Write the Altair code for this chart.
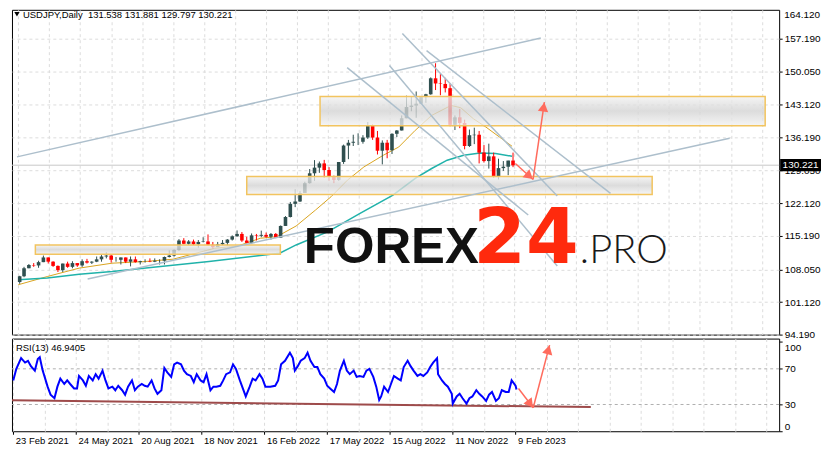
import altair as alt
import pandas as pd

# ---------------- axis / text content ----------------
price_ticks = [164.12, 157.19, 150.05, 143.12, 136.19, 129.05, 122.12, 115.19, 108.05, 101.12, 94.19]
rsi_ticks = [0, 30, 70, 100]
rsi_levels = [30, 70]
date_labels = ["23 Feb 2021", "24 May 2021", "20 Aug 2021", "18 Nov 2021", "16 Feb 2022",
               "17 May 2022", "15 Aug 2022", "11 Nov 2022", "9 Feb 2023"]
date_label_bars = [0, 64, 128, 192, 256, 320, 384, 448, 512]
grid_bars = [0, 32, 64, 96, 128, 160, 192, 224, 256, 288, 320, 352, 384, 416, 448, 480,
             512, 544, 576, 608, 640, 672, 704, 736, 768]
header_text = "USDJPY,Daily\u00a0\u00a0131.538 131.881 129.797 130.221"
rsi_title = "RSI(13) 46.9405"
bid_price = 130.221
bid_label = "130.221"

# ---------------- weekly candles (USDJPY, Feb 2021 - Feb 2023) ----------------
first_open = 105.4
week_close = [106.6, 108.3, 109.0, 108.9, 109.6, 110.6, 109.7, 108.8, 107.9, 109.3,
              108.6, 109.4, 108.9, 109.8, 109.5, 109.7, 110.2, 110.8, 111.0, 110.1,
              110.1, 110.6, 109.7, 110.2, 109.6, 109.8, 109.8, 109.7, 109.9, 109.9,
              110.7, 111.0, 112.2, 114.2, 113.5, 114.0, 113.4, 113.9, 114.0, 113.3,
              112.8, 113.4, 113.7, 114.4, 115.1, 115.6, 114.2, 113.7, 115.3, 115.2,
              115.4, 115.0, 115.6, 114.8, 117.3, 119.2, 122.0, 122.5, 124.3, 126.4,
              128.5, 129.7, 130.6, 129.2, 127.9, 127.1, 130.9, 134.4, 135.0, 135.2,
              135.2, 136.1, 138.6, 136.1, 133.3, 135.0, 133.4, 136.9, 137.6, 140.2,
              142.6, 142.9, 143.3, 144.7, 145.3, 148.7, 147.6, 147.5, 146.6, 138.8,
              140.4, 139.2, 134.3, 136.6, 136.7, 132.9, 131.1, 132.1, 127.9, 129.6,
              129.9, 131.2, 130.2]
week_high = [106.7, 108.6, 109.2, 109.4, 109.9, 111.0, 110.6, 109.8, 108.9, 109.3,
             109.7, 109.8, 109.4, 110.2, 110.3, 109.8, 110.8, 111.1, 111.7, 111.2,
             110.7, 110.6, 110.6, 110.8, 110.8, 109.9, 110.2, 110.4, 110.4, 110.2,
             110.8, 112.1, 112.3, 114.5, 114.7, 114.3, 114.4, 114.3, 114.9, 115.5,
             113.9, 113.9, 114.3, 114.5, 115.3, 116.35, 116.0, 115.0, 115.7, 115.6,
             116.3, 115.9, 115.8, 115.8, 117.4, 119.4, 122.4, 125.1, 124.7, 126.7,
             129.4, 131.3, 131.0, 131.35, 129.8, 128.0, 130.9, 134.6, 135.6, 136.7,
             137.0, 136.6, 139.4, 138.9, 137.5, 135.5, 135.6, 137.0, 137.7, 140.8,
             145.0, 144.9, 145.9, 144.9, 145.4, 148.9, 151.9, 149.7, 148.8, 147.6,
             140.8, 142.2, 139.9, 137.8, 138.2, 137.5, 134.5, 134.8, 132.9, 131.6,
             131.1, 131.2, 132.9]
week_low = [105.0, 106.4, 108.3, 108.6, 108.4, 109.6, 109.3, 108.6, 107.5, 107.5,
            108.4, 108.3, 108.6, 108.6, 109.3, 109.2, 109.6, 109.7, 110.4, 109.5,
            109.7, 109.1, 109.4, 108.7, 109.5, 109.1, 109.5, 109.6, 109.6, 109.1,
            109.1, 110.6, 110.8, 112.0, 113.4, 113.3, 113.2, 112.7, 113.8, 113.1,
            112.5, 113.1, 113.2, 113.1, 114.2, 115.0, 113.9, 113.6, 113.5, 114.2,
            114.9, 114.8, 114.4, 114.7, 114.8, 117.3, 119.1, 121.3, 122.4, 124.3,
            126.3, 126.9, 128.6, 127.5, 126.9, 126.4, 126.9, 130.5, 131.5, 134.3,
            134.5, 134.8, 135.8, 135.6, 132.5, 130.4, 131.7, 132.6, 136.2, 137.6,
            140.2, 141.7, 140.3, 143.3, 143.5, 145.2, 146.2, 145.1, 145.7, 138.5,
            137.7, 138.1, 133.6, 134.1, 134.7, 130.6, 130.8, 129.5, 127.5, 127.2,
            129.0, 128.1, 129.8]

# ---------------- moving averages ----------------
orange_bar = [0, 30, 63, 97, 130, 160, 203, 227, 250, 267, 287, 307, 323, 340, 357, 377,
              393, 410, 427, 447, 457, 470, 483, 497, 510]
orange_val = [104.79, 106.54, 108.33, 109.38, 109.72, 110.23, 112.56, 113.05, 114.68, 115.02,
              117.29, 120.68, 123.5, 127.04, 129.85, 132.33, 134.09, 137.63, 140.81, 142.93,
              142.44, 140.11, 138.33, 136.21, 134.24]
teal_bar = [0, 30, 63, 97, 137, 197, 270, 287, 320, 353, 387, 410, 427, 443, 460, 477, 493, 510]
teal_val = [105.85, 106.21, 107.05, 107.6, 108.45, 109.72, 111.5, 113.26, 116.08, 119.98,
            123.86, 127.4, 129.52, 131.28, 132.33, 132.82, 132.69, 132.12]

# ---------------- RSI(13) ----------------
rsi_bar = [0, 3, 8, 12, 15, 18, 22, 25, 27, 30, 32, 35, 38, 42, 45, 48, 52, 55, 58, 62,
           65, 67, 71, 74, 77, 81, 84, 87, 91, 94, 97, 101, 104, 107, 111, 114, 117, 121, 124, 127,
           131, 134, 137, 141, 144, 147, 151, 154, 157, 161, 164, 167, 171, 174, 177, 181, 184, 187, 191, 194,
           197, 201, 204, 207, 211, 214, 217, 221, 224, 227, 231, 234, 237, 241, 244, 247, 251, 254, 257,
           262, 267, 270, 273, 277, 282, 285, 287, 290, 293, 297, 300, 303, 307, 310, 313, 317, 320, 323,
           327, 330, 333, 337, 340, 343, 347, 350, 353, 357, 360, 363, 367, 370, 373, 375, 378, 382, 385,
           388, 392, 395, 398, 402, 405, 408, 412, 415, 418, 422, 425, 428, 432, 433, 437, 440, 443, 447,
           448, 452, 455, 458, 462, 465, 468, 472, 475, 478, 482, 485, 488, 492, 495, 498, 502, 505, 508,
           512, 513]
rsi_val = [57, 69.6, 82, 77, 79, 73, 68, 81, 83, 68, 61, 50, 41, 37, 50, 59, 53, 57, 53, 48,
           48, 62, 57, 51, 62, 57, 64, 59, 68, 57, 48, 50, 46, 51, 46, 41, 50, 57, 46, 50,
           53, 51, 50, 57, 48, 42, 46, 71, 66, 61, 75, 77, 75, 68, 64, 62, 55, 64, 57, 55,
           64, 46, 50, 50, 51, 57, 64, 66, 75, 70, 57, 48, 39, 50, 59, 57, 64, 59, 50,
           50, 51, 57, 75, 79, 88, 82, 68, 73, 79, 82, 88, 79, 72, 72, 64, 59, 51, 48,
           44, 53, 68, 79, 68, 64, 68, 61, 62, 61, 68, 70, 61, 50, 35, 39, 50, 44, 53,
           62, 59, 57, 72, 79, 73, 68, 62, 64, 62, 66, 72, 77, 82, 64, 57, 53, 50, 42,
           31, 39, 42, 37, 31, 37, 39, 46, 42, 39, 34, 41, 44, 34, 37, 46, 44, 44, 57,
           51, 46.9]

# ---------------- drawings ----------------
zone_x0 = [17.7, 311.7, 236.0]
zone_x1 = [270.7, 771.4, 654.7]
zone_top = [113.26, 144.84, 127.82]
zone_bot = [111.29, 138.63, 124.0]

trend_x0 = [-1.3, 71.7, 396.7, 421.7, 383.4, 339.7]
trend_p0 = [131.99, 106.0, 158.25, 154.58, 151.41, 150.98]
trend_x1 = [539.7, 734.7, 556.7, 611.7, 556.7, 526.7]
trend_p1 = [157.28, 135.94, 123.65, 124.22, 108.77, 119.62]

arrow_x0 = [513.4, 531.7]
arrow_p0 = [130.57, 127.19]
arrow_x1 = [531.7, 543.4]
arrow_p1 = [127.19, 143.63]
head_x = [527.9, 542.65]
head_p = [127.89, 142.6]
head_angle = [131, 8.6]

rsi_arrow_x0 = [515, 530]
rsi_arrow_v0 = [47.9, 26.3]
rsi_arrow_x1 = [530, 546.7]
rsi_arrow_v1 = [26.3, 96.6]
rsi_head_x = [527, 545.45]
rsi_head_v = [30.6, 91.4]
rsi_head_angle = [143.1, 14.4]

rsi_trend_x0 = [-1.3]
rsi_trend_v0 = [34.65]
rsi_trend_x1 = [588.7]
rsi_trend_v1 = [27.1]

wm_text = ["FOREX", "24", ".PRO"]
wm_bar = [295, 470, 580]
wm_price = [109.38, 109.38, 109.38]

# ---------------- layout constants ----------------
FONT = "Liberation Sans"
GRID = "#dcdcdc"
MAIN_W = 770
MAIN_H = 326
RSI_H = 93
X_DOM = [-1.3, 780.7]
P_DOM = [94.19, 163.27]
R_DOM = [0, 103.9]
ARROW = "#ff6b5d"

# ---------------- tables ----------------
n = len(week_close)
starts = [0] + [5 * k - 1 for k in range(1, n)]
ends = [3] + [5 * k + 3 for k in range(1, n)]
opens = [first_open] + week_close[:-1]
candles = pd.DataFrame({
    "mid": [(s + e) / 2 for s, e in zip(starts, ends)],
    "open": opens, "close": week_close, "high": week_high, "low": week_low,
})
candles["dir"] = ["up" if c >= o else "down" for o, c in zip(opens, week_close)]

ma_orange = pd.DataFrame({"bar": orange_bar, "v": orange_val})
ma_teal = pd.DataFrame({"bar": teal_bar, "v": teal_val})
rsi_df = pd.DataFrame({"bar": rsi_bar, "v": rsi_val})
zones = pd.DataFrame({"x0": zone_x0, "x1": zone_x1, "top": zone_top, "bot": zone_bot})
trends = pd.DataFrame({"x0": trend_x0, "p0": trend_p0, "x1": trend_x1, "p1": trend_p1})
arrows = pd.DataFrame({"x0": arrow_x0, "p0": arrow_p0, "x1": arrow_x1, "p1": arrow_p1})
heads = pd.DataFrame({"x": head_x, "p": head_p, "angle": head_angle})
rsi_arrows = pd.DataFrame({"x0": rsi_arrow_x0, "v0": rsi_arrow_v0, "x1": rsi_arrow_x1, "v1": rsi_arrow_v1})
rsi_heads = pd.DataFrame({"x": rsi_head_x, "v": rsi_head_v, "angle": rsi_head_angle})
rsi_trend = pd.DataFrame({"x0": rsi_trend_x0, "v0": rsi_trend_v0, "x1": rsi_trend_x1, "v1": rsi_trend_v1})
levels = pd.DataFrame({"v": rsi_levels})
bid = pd.DataFrame({"p": [bid_price], "top": [bid_price + 1.3], "bot": [bid_price - 1.3], "t": [bid_label]})
wm = pd.DataFrame({"t": wm_text, "bar": wm_bar, "p": wm_price})
header = pd.DataFrame({"t": [header_text]})
top_label = pd.DataFrame({"t": ["%.3f" % price_ticks[0]]})
rsi_head_txt = pd.DataFrame({"t": [rsi_title]})

# ---------------- scales & axes ----------------
xscale = alt.Scale(domain=X_DOM, nice=False, zero=False)
pscale = alt.Scale(domain=P_DOM, nice=False, zero=False)
rscale = alt.Scale(domain=R_DOM, nice=False, zero=False)

x_axis_main = alt.Axis(values=grid_bars, labels=False, ticks=False, domain=False, grid=True,
                       gridColor=GRID, gridDash=[3, 3], title=None)
p_axis = alt.Axis(orient="right", values=[t for t in price_ticks if t <= P_DOM[1]], format=".3f",
                  grid=True, gridColor=GRID, gridDash=[3, 3], tickSize=3, tickColor="black",
                  domain=False, labelPadding=2, labelFont=FONT, labelFontSize=10,
                  labelColor="black", title=None, labelOverlap=False)

label_expr = " : ".join("datum.value == %d ? '%s'" % (b, l) for b, l in zip(date_label_bars, date_labels)) + " : ''"
x_axis_rsi = alt.Axis(values=grid_bars, grid=True, gridColor=GRID, gridDash=[3, 3],
                      labelExpr=label_expr, labelAlign="left", labelOffset=2, labelPadding=1,
                      labelFont=FONT, labelFontSize=9.5, labelColor="black", tickSize=3,
                      tickColor="black",
                      tickOpacity={"condition": {"test": "datum.value % 64 == 0 && datum.value <= 512", "value": 1}, "value": 0},
                      domain=False, title=None, labelOverlap=False, labelBound=False)
r_axis = alt.Axis(orient="right", values=rsi_ticks, grid=False, tickSize=3, tickColor="black",
                  domain=False, labelPadding=2, labelFont=FONT, labelFontSize=10,
                  labelColor="black", labelFlush=4, title=None)


def xm(f):
    return alt.X(f, type="quantitative", scale=xscale, axis=x_axis_main)


def ym(f):
    return alt.Y(f, type="quantitative", scale=pscale, axis=p_axis)


def xr(f):
    return alt.X(f, type="quantitative", scale=xscale, axis=x_axis_rsi)


def yr(f):
    return alt.Y(f, type="quantitative", scale=rscale, axis=r_axis)


ccol = alt.Color("dir:N", scale=alt.Scale(domain=["up", "down"], range=["#2f4f4f", "#ff0000"]), legend=None)

# ---------------- main panel ----------------
bid_line = alt.Chart(bid).mark_rule(color="#c8c8c8", strokeWidth=1).encode(y=ym("p"))
orange = alt.Chart(ma_orange).mark_line(color="#daa520", strokeWidth=1).encode(x=xm("bar"), y=ym("v"))
teal = alt.Chart(ma_teal).mark_line(color="#20b2aa", strokeWidth=1.5).encode(x=xm("bar"), y=ym("v"))
wicks = alt.Chart(candles).mark_rule(strokeWidth=1).encode(x=xm("mid"), y=ym("low"), y2="high", color=ccol)
bodies = alt.Chart(candles).mark_bar(size=3.6).encode(x=xm("mid"), y=ym("open"), y2="close", color=ccol)
grad = alt.Gradient(gradient="linear",
                    stops=[alt.GradientStop(color="#f2f2f2", offset=0),
                           alt.GradientStop(color="#d2d2d2", offset=0.5),
                           alt.GradientStop(color="#f2f2f2", offset=1)],
                    x1=0, x2=0, y1=0, y2=1)
zone_marks = alt.Chart(zones).mark_rect(fill=grad, fillOpacity=0.78, stroke="#f2c45f", strokeWidth=1.5).encode(
    x=xm("x0"), x2="x1", y=ym("top"), y2="bot")
trend_marks = alt.Chart(trends).mark_rule(color="#adbfcc", strokeWidth=1.5).encode(
    x=xm("x0"), y=ym("p0"), x2="x1", y2="p1")
arrow_marks = alt.Chart(arrows).mark_rule(color=ARROW, strokeWidth=1.5).encode(
    x=xm("x0"), y=ym("p0"), x2="x1", y2="p1")
head_marks = alt.Chart(heads).mark_point(shape="triangle-up", filled=True, size=110, color=ARROW, opacity=1).encode(
    x=xm("x"), y=ym("p"), angle=alt.Angle("angle:Q", scale=None))
wm1 = alt.Chart(wm.iloc[[0]]).mark_text(font="Liberation Sans", fontWeight="bold", fontSize=51, color="#111111",
                                         align="left", baseline="alphabetic").encode(x=xm("bar"), y=ym("p"), text="t:N")
wm2 = alt.Chart(wm.iloc[[1]]).mark_text(font="DejaVu Sans", fontWeight="bold", fontSize=76, color="#ff2a0d",
                                         align="left", baseline="alphabetic").encode(x=xm("bar"), y=ym("p"), text="t:N")
wm3 = alt.Chart(wm.iloc[[2]]).mark_text(font="Lato", fontWeight=300, fontSize=40, color="#1a1a1a",
                                         align="left", baseline="alphabetic").encode(x=xm("bar"), y=ym("p"), text="t:N")
tri = alt.Chart(header).mark_point(shape="triangle-down", filled=True, size=28, color="black", opacity=1).encode(
    x=alt.value(5), y=alt.value(4.5))
head_txt = alt.Chart(header).mark_text(font=FONT, fontSize=9.5, color="black", align="left", baseline="alphabetic").encode(
    x=alt.value(11), y=alt.value(8), text="t:N")
box = alt.Chart(bid).mark_rect(color="black").encode(x=alt.value(771), x2=alt.value(812), y=ym("top"), y2="bot")
box_txt = alt.Chart(bid).mark_text(font=FONT, fontSize=10, color="white", align="center", baseline="middle").encode(
    x=alt.value(791.5), y=ym("p"), text="t:N")
top_txt = alt.Chart(top_label).mark_text(font=FONT, fontSize=10, color="black", align="left", baseline="top").encode(
    x=alt.value(775), y=alt.value(0), text="t:N")

main = alt.layer(bid_line, orange, teal, wicks, bodies, zone_marks, trend_marks, arrow_marks, head_marks,
                 wm1, wm2, wm3, tri, head_txt, box, box_txt, top_txt).properties(width=MAIN_W, height=MAIN_H)

# ---------------- RSI panel ----------------
lvl = alt.Chart(levels).mark_rule(color="#b0b0b0", strokeDash=[3, 3], strokeWidth=1).encode(y=yr("v"))
rtrend = alt.Chart(rsi_trend).mark_rule(color="#9e4b4b", strokeWidth=2).encode(x=xr("x0"), y=yr("v0"), x2="x1", y2="v1")
rline = alt.Chart(rsi_df).mark_line(color="#0000ff", strokeWidth=2).encode(x=xr("bar"), y=yr("v"))
rarrows = alt.Chart(rsi_arrows).mark_rule(color=ARROW, strokeWidth=1.5).encode(x=xr("x0"), y=yr("v0"), x2="x1", y2="v1")
rheads = alt.Chart(rsi_heads).mark_point(shape="triangle-up", filled=True, size=110, color=ARROW, opacity=1).encode(
    x=xr("x"), y=yr("v"), angle=alt.Angle("angle:Q", scale=None))
rtxt = alt.Chart(rsi_head_txt).mark_text(font=FONT, fontSize=9.5, color="black", align="left", baseline="alphabetic").encode(
    x=alt.value(4), y=alt.value(12), text="t:N")

rsi = alt.layer(lvl, rtrend, rline, rarrows, rheads, rtxt).properties(width=MAIN_W, height=RSI_H)

chart = alt.vconcat(main, rsi, spacing=4, bounds="flush").properties(
    padding=0, background="white"
).configure_view(stroke="black", strokeWidth=1)

chart.save("out.html", embed_options={"renderer": "svg", "actions": False})
